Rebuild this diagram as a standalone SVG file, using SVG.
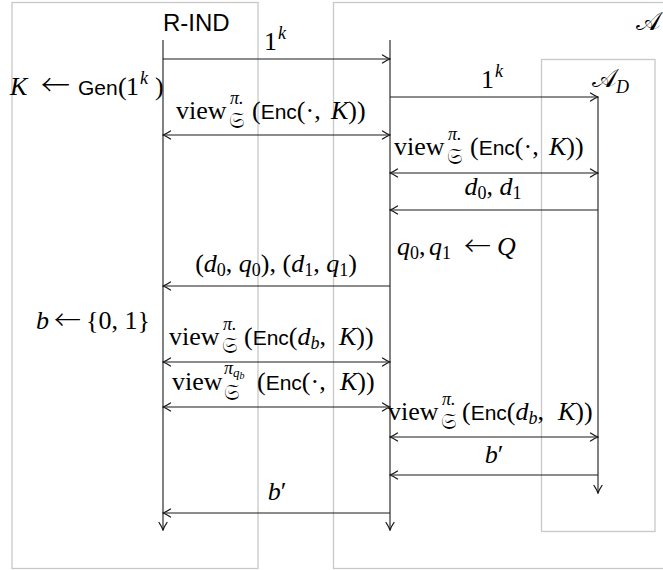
<svg xmlns="http://www.w3.org/2000/svg" width="663" height="570" viewBox="0 0 663 570">
<defs>
<style>
.box{fill:none;stroke:#c8c8c8;stroke-width:1.3}
.ln{fill:none;stroke:#1a1a1a;stroke-width:1.1}
.m{font-family:"Liberation Serif",serif;font-size:26px;fill:#000}
.i{font-style:italic}
.sf{font-family:"Liberation Sans",sans-serif;font-size:21px}
.s{font-size:18px}
.ss{font-size:13px}
.fr{font-family:"DejaVu Serif","DejaVu Sans","Noto Sans",serif;font-size:22px}
.cal{font-family:"DejaVu Serif","DejaVu Sans","Noto Sans",serif;font-size:26px}
.ar{font-family:"Noto Sans CJK SC","DejaVu Sans",sans-serif;font-size:27px;font-weight:300}
</style>
<marker id="ah" viewBox="-9 -5 10 10" refX="0" refY="0" markerWidth="10" markerHeight="10" markerUnits="userSpaceOnUse" orient="auto-start-reverse">
<path d="M-7.5,-4 Q-3,-1 0,0 Q-3,1 -7.5,4" fill="none" stroke="#1a1a1a" stroke-width="1.3" stroke-linecap="round"/>
</marker>
</defs>
<rect width="663" height="570" fill="#fff"/>

<g id="r-ind">
<rect class="box" x="12" y="2.5" width="246" height="566"/>
<text x="163" y="31" class="sf" style="font-size:24px">R-IND</text>
</g>
<g id="adversary">
<rect class="box" x="333.5" y="2.5" width="340" height="566"/>
<text x="636" y="30" class="cal">𝒜</text>
</g>
<g id="adversary-d">
<rect class="box" x="541.5" y="59.5" width="113.5" height="472"/>
<text y="87" class="m"><tspan x="592" class="cal">𝒜</tspan><tspan class="i s" x="616" y="93">D</tspan></text>
</g>

<g id="gen">
<text class="m" y="95"><tspan x="10" class="i">K</tspan><tspan x="41" y="96" class="ar" style="font-size:29px">←</tspan><tspan x="78" y="95" class="sf">Gen</tspan><tspan x="118">(</tspan><tspan x="126">1</tspan><tspan class="i s" x="140" y="84">k</tspan><tspan x="155" y="95">)</tspan></text>
</g>
<g id="choose-b">
<text class="m" y="329"><tspan x="36" class="i">b</tspan><tspan x="54" y="330" class="ar">←</tspan><tspan x="86" y="329">{0, 1}</tspan></text>
</g>
<g id="choose-q">
<text class="m" y="255"><tspan x="397" class="i">q</tspan><tspan class="s" dy="4">0</tspan><tspan dy="-4">,</tspan><tspan x="429" class="i">q</tspan><tspan class="s" dy="4">1</tspan><tspan x="464" y="256" class="ar">←</tspan><tspan x="497" y="255" class="i">Q</tspan></text>
</g>

<g id="connectors">
<path class="ln" d="M163,40V530" marker-end="url(#ah)"/>
<path class="ln" d="M390,40V530" marker-end="url(#ah)"/>
<path class="ln" d="M598,97V493" marker-end="url(#ah)"/>
<path class="ln" d="M163,59H390" marker-end="url(#ah)"/>
<path class="ln" d="M163,135H390" marker-start="url(#ah)" marker-end="url(#ah)"/>
<path class="ln" d="M390,97H598" marker-end="url(#ah)"/>
<path class="ln" d="M390,173H598" marker-start="url(#ah)" marker-end="url(#ah)"/>
<path class="ln" d="M598,210H390" marker-end="url(#ah)"/>
<path class="ln" d="M390,286H163" marker-end="url(#ah)"/>
<path class="ln" d="M163,362H390" marker-start="url(#ah)" marker-end="url(#ah)"/>
<path class="ln" d="M163,407H390" marker-start="url(#ah)" marker-end="url(#ah)"/>
<path class="ln" d="M390,437H598" marker-start="url(#ah)" marker-end="url(#ah)"/>
<path class="ln" d="M598,475H390" marker-end="url(#ah)"/>
<path class="ln" d="M390,513H163" marker-end="url(#ah)"/>

<text class="m"><tspan x="264" y="50">1</tspan><tspan class="i s" x="278" y="39">k</tspan></text>
<text class="m"><tspan x="481" y="88">1</tspan><tspan class="i s" x="495" y="77">k</tspan></text>

<text class="m"><tspan x="176" y="119">view</tspan><tspan class="i s" x="230" y="104">π.</tspan><tspan class="fr" x="229" y="128">𝔖</tspan><tspan x="252" y="119">(</tspan><tspan class="sf">Enc</tspan>(·,<tspan class="i" x="331">K</tspan>))</text>

<text class="m"><tspan x="394" y="155">view</tspan><tspan class="i s" x="448" y="140">π.</tspan><tspan class="fr" x="447" y="164">𝔖</tspan><tspan x="470" y="155">(</tspan><tspan class="sf">Enc</tspan>(·,<tspan class="i" x="549">K</tspan>))</text>

<text x="493" y="195" text-anchor="middle" class="m"><tspan class="i">d</tspan><tspan class="s" dy="4">0</tspan><tspan dy="-4">, </tspan><tspan class="i">d</tspan><tspan class="s" dy="4">1</tspan></text>

<text x="276" y="272" text-anchor="middle" class="m">(<tspan class="i">d</tspan><tspan class="s" dy="4">0</tspan><tspan dy="-4">, </tspan><tspan class="i">q</tspan><tspan class="s" dy="4">0</tspan><tspan dy="-4">), (</tspan><tspan class="i">d</tspan><tspan class="s" dy="4">1</tspan><tspan dy="-4">, </tspan><tspan class="i">q</tspan><tspan class="s" dy="4">1</tspan><tspan dy="-4">)</tspan></text>

<text class="m"><tspan x="169" y="345">view</tspan><tspan class="i s" x="223" y="330">π.</tspan><tspan class="fr" x="222" y="353">𝔖</tspan><tspan x="244" y="345">(</tspan><tspan class="sf">Enc</tspan>(<tspan class="i">d</tspan><tspan class="i s" dy="4">b</tspan><tspan dy="-4">,</tspan><tspan class="i" x="339">K</tspan>))</text>

<text class="m"><tspan x="172" y="390">view</tspan><tspan class="i s" x="224" y="374">π</tspan><tspan class="i ss" dy="3">q</tspan><tspan class="i" style="font-size:10px" dy="2">b</tspan><tspan class="fr" x="224" y="400">𝔖</tspan><tspan x="257" y="390">(</tspan><tspan class="sf">Enc</tspan>(·,<tspan class="i" x="340">K</tspan>))</text>

<text class="m"><tspan x="388" y="420">view</tspan><tspan class="i s" x="442" y="405">π.</tspan><tspan class="fr" x="441" y="429">𝔖</tspan><tspan x="462" y="420">(</tspan><tspan class="sf">Enc</tspan>(<tspan class="i">d</tspan><tspan class="i s" dy="4">b</tspan><tspan dy="-4">,</tspan><tspan class="i" x="558">K</tspan>))</text>

<text x="494" y="463" text-anchor="middle" class="m"><tspan class="i">b</tspan>′</text>
<text x="277" y="500" text-anchor="middle" class="m"><tspan class="i">b</tspan>′</text>
</g>
</svg>
